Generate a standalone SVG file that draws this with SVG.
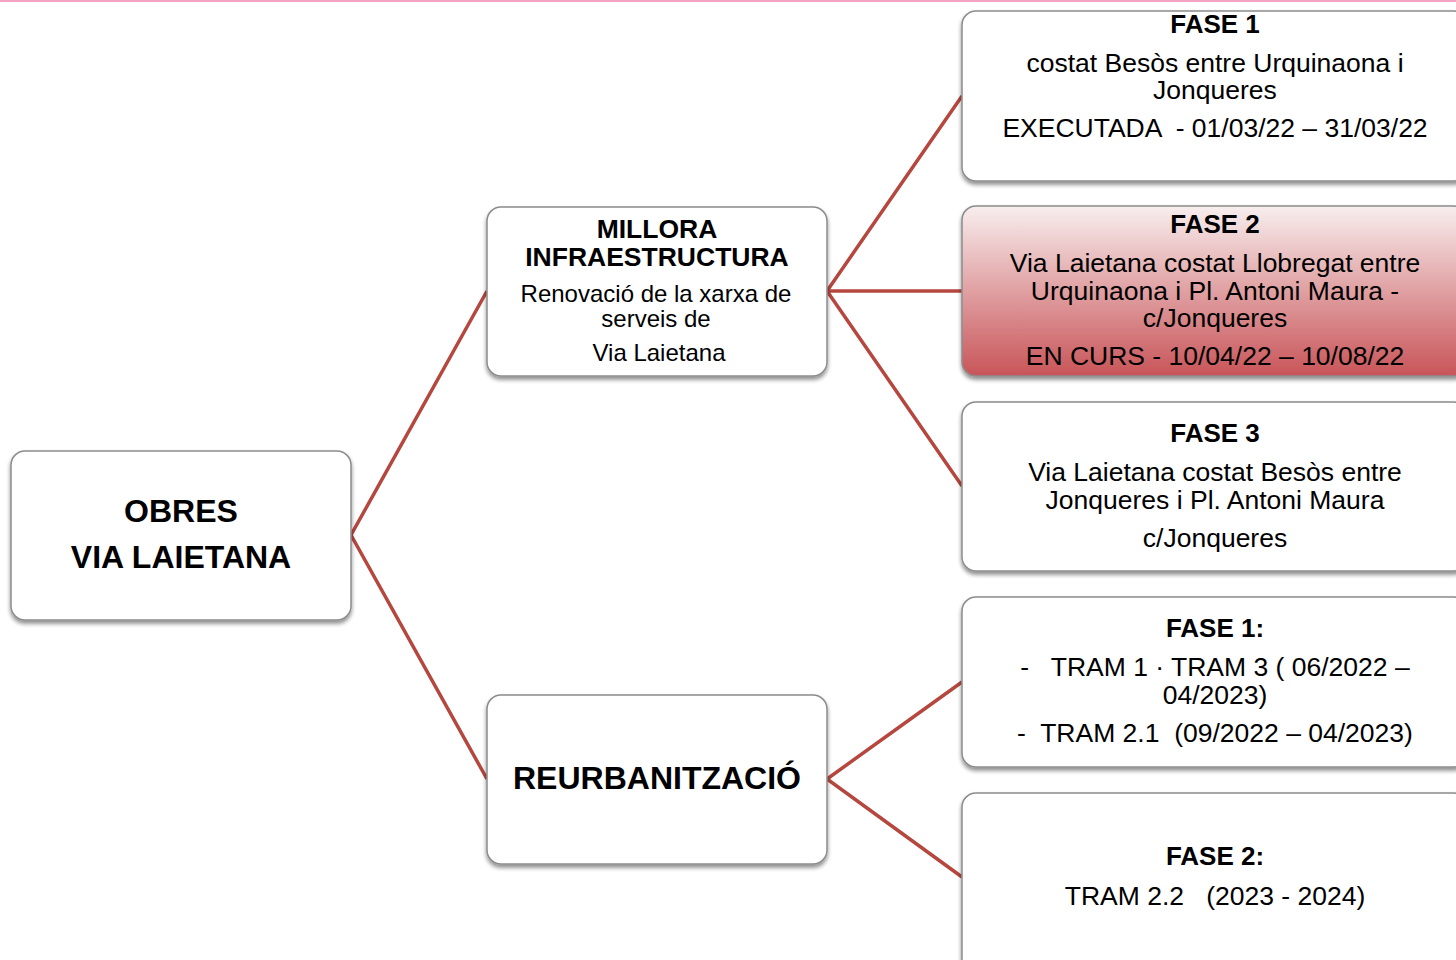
<svg xmlns="http://www.w3.org/2000/svg" width="1456" height="960" viewBox="0 0 1456 960">
<style>
.box{fill:#fff;stroke:#8c8c8c;stroke-width:1.5;filter:url(#sh)}
.t{font-family:"Liberation Sans",Arial,sans-serif;fill:#000;text-anchor:middle}
.b{font-weight:bold}
.h{font-size:26px;font-weight:bold}
.p{font-size:26.5px}
.conn{stroke:#b5473f;stroke-width:3.5;fill:none;stroke-linejoin:miter}
</style>
<defs>
<filter id="sh" x="-10%" y="-10%" width="120%" height="130%">
<feGaussianBlur in="SourceAlpha" stdDeviation="2"/>
<feOffset dx="0" dy="3" result="o"/>
<feComponentTransfer><feFuncA type="linear" slope="0.45"/></feComponentTransfer>
<feMerge><feMergeNode/><feMergeNode in="SourceGraphic"/></feMerge>
</filter>
<linearGradient id="red" x1="0" y1="0" x2="0" y2="1">
<stop offset="0" stop-color="#f8eeee"/>
<stop offset="0.5" stop-color="#e0a0a2"/>
<stop offset="1" stop-color="#c85559"/>
</linearGradient>
</defs>
<rect width="1456" height="960" fill="#fff"/>
<rect x="0" y="0" width="1456" height="2" fill="#f4a3c2"/>
<g id="connectors">
<polyline class="conn" points="487,291 351,535 487,779"/>
<polyline class="conn" points="962,96 827,291 962,486"/>
<line class="conn" x1="827" y1="291" x2="962" y2="291"/>
<polyline class="conn" points="962,682 827,779 962,877"/>
</g>
<g id="root">
<rect class="box" x="11" y="451" width="340" height="169" rx="14"/>
<text class="t b" x="181" y="522" font-size="32">OBRES</text>
<text class="t b" x="181" y="568" font-size="32">VIA LAIETANA</text>
</g>
<g id="millora">
<rect class="box" x="487" y="207" width="340" height="169" rx="14"/>
<text class="t b" x="657" y="238" font-size="26.5">MILLORA</text>
<text class="t b" x="657" y="266" font-size="26.5">INFRAESTRUCTURA</text>
<text class="t" x="656" y="302" font-size="24">Renovació de la xarxa de</text>
<text class="t" x="656" y="327" font-size="24">serveis de</text>
<text class="t" x="659" y="361" font-size="24">Via Laietana</text>
</g>
<g id="reurb">
<rect class="box" x="487" y="695" width="340" height="169" rx="14"/>
<text class="t b" x="657" y="789" font-size="32">REURBANITZACIÓ</text>
</g>
<g id="fase1">
<rect class="box" x="962" y="11" width="506" height="170" rx="14"/>
<text class="t h" x="1215" y="33">FASE 1</text>
<text class="t p" x="1215" y="72">costat Besòs entre Urquinaona i</text>
<text class="t p" x="1215" y="99">Jonqueres</text>
<text class="t p" x="1215" y="137" xml:space="preserve">EXECUTADA  - 01/03/22 – 31/03/22</text>
</g>
<g id="fase2">
<rect class="box" x="962" y="206" width="506" height="170" rx="14" style="fill:url(#red)"/>
<text class="t h" x="1215" y="233">FASE 2</text>
<text class="t p" x="1215" y="272">Via Laietana costat Llobregat entre</text>
<text class="t p" x="1215" y="300">Urquinaona i Pl. Antoni Maura -</text>
<text class="t p" x="1215" y="327">c/Jonqueres</text>
<text class="t p" x="1215" y="365">EN CURS - 10/04/22 – 10/08/22</text>
</g>
<g id="fase3">
<rect class="box" x="962" y="402" width="506" height="169" rx="14"/>
<text class="t h" x="1215" y="442">FASE 3</text>
<text class="t p" x="1215" y="481">Via Laietana costat Besòs entre</text>
<text class="t p" x="1215" y="509">Jonqueres i Pl. Antoni Maura</text>
<text class="t p" x="1215" y="547">c/Jonqueres</text>
</g>
<g id="rfase1">
<rect class="box" x="962" y="597" width="506" height="170" rx="14"/>
<text class="t h" x="1215" y="637">FASE 1:</text>
<text class="t p" x="1215" y="676" xml:space="preserve">-   TRAM 1 · TRAM 3 ( 06/2022 –</text>
<text class="t p" x="1215" y="704">04/2023)</text>
<text class="t p" x="1215" y="742" xml:space="preserve">-  TRAM 2.1  (09/2022 – 04/2023)</text>
</g>
<g id="rfase2">
<rect class="box" x="962" y="793" width="506" height="190" rx="14"/>
<text class="t h" x="1215" y="865">FASE 2:</text>
<text class="t p" x="1215" y="905" xml:space="preserve">TRAM 2.2   (2023 - 2024)</text>
</g>
</svg>
